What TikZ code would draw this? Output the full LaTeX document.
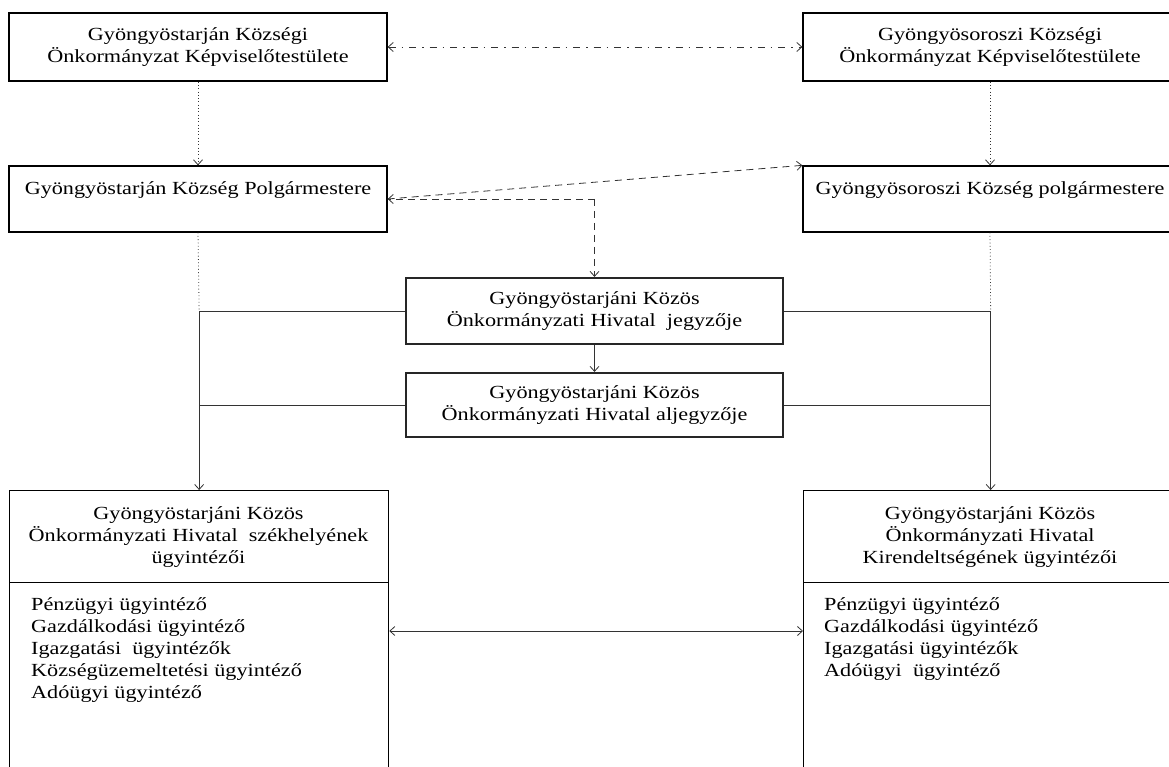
\documentclass[tikz,border=0pt]{standalone}
\usepackage{fontspec}
\setmainfont{Liberation Serif}[FakeStretch=1.2]
\usetikzlibrary{arrows.meta,calc}
\newcommand\diafont{\fontsize{18.5}{22}\selectfont}
\begin{document}
\begin{tikzpicture}[x=1pt,y=-1pt,
  box/.style={draw=black,line width=1.3pt,inner sep=0pt,align=center,font=\diafont},
  boldbox/.style={box,line width=2.2pt,draw=black!85},
  txt/.style={inner sep=0pt,font=\diafont},
  conn/.style={draw=black!80,line width=0.8pt},
  tip/.style={-{Straight Barb[length=5pt,width=9pt]}},
  bitip/.style={{Straight Barb[length=5pt,width=9pt]}-{Straight Barb[length=5pt,width=9pt]}},
  dashdotline/.style={dash pattern=on 7pt off 6pt on 1.5pt off 6pt},
  dashline/.style={dash pattern=on 7pt off 5pt},
  dotline/.style={dash pattern=on 0.8pt off 2.5pt}
]
\useasboundingbox (0,0) rectangle (1169,767);
\fill[white] (0,0) rectangle (1169,767);
\clip (0,0) rectangle (1169,767);

% top boxes
\node[box,minimum width=378pt,minimum height=68pt] (tl) at (198,47) {Gyöngyöstarján Községi\\Önkormányzat Képviselőtestülete};
\node[box,minimum width=374pt,minimum height=68pt] (tr) at (990,47) {Gyöngyösoroszi Községi\\Önkormányzat Képviselőtestülete};

% mayors
\node[box,minimum width=378pt,minimum height=66pt] (pl) at (198,199) {Gyöngyöstarján Község Polgármestere\\\mbox{}};
\node[box,minimum width=374pt,minimum height=66pt] (pr) at (990,199) {Gyöngyösoroszi Község polgármestere\\\mbox{}};

% notary boxes
\node[boldbox,minimum width=377pt,minimum height=66pt] (j) at (594.5,311) {Gyöngyöstarjáni Közös\\Önkormányzati Hivatal\ \ jegyzője};
\node[boldbox,minimum width=377pt,minimum height=64pt] (a) at (594.5,405) {Gyöngyöstarjáni Közös\\Önkormányzati Hivatal aljegyzője};

% bottom boxes
\node[box,minimum width=379pt,minimum height=320pt,anchor=north west] (bl) at (9,490) {};
\node[box,minimum width=374pt,minimum height=320pt,anchor=north west] (br) at (803,490) {};
\node[txt,align=center] (blt) at (198.5,537) {Gyöngyöstarjáni Közös\\Önkormányzati Hivatal\ \ székhelyének\\ügyintézői};
\node[txt,align=center] (brt) at (990,537) {Gyöngyöstarjáni Közös\\Önkormányzati Hivatal\\Kirendeltségének ügyintézői};
\coordinate (sepy) at (0,582);
\draw[line width=1pt] (bl.west |- sepy) -- (bl.east |- sepy);
\draw[line width=1pt] (br.west |- sepy) -- (br.east |- sepy);
\node[txt,align=left,anchor=north west] (bll) at (31,597) {Pénzügyi ügyintéző\\Gazdálkodási ügyintéző\\Igazgatási\ \ ügyintézők\\Községüzemeltetési ügyintéző\\Adóügyi ügyintéző};
\node[txt,align=left,anchor=north west] (brl) at (824,597) {Pénzügyi ügyintéző\\Gazdálkodási ügyintéző\\Igazgatási ügyintézők\\Adóügyi\ \ ügyintéző};

% connectors
\draw[conn,dashdotline,bitip] (tl) -- (tr);
\draw[conn,dotline,tip] (tl) -- (pl);
\draw[conn,dotline,tip] (tr) -- (pr);

\coordinate (jn) at (j.north |- pl.east);
\draw[conn,dashline,tip] (jn) -- (pl.east);
\draw[conn,dashline,tip] (jn) -- (j.north);
\draw[conn,dashline,tip] (pl.east) -- (pr.north west);

\draw[conn,tip] (j) -- (a);

\coordinate (lj) at (bl.north |- j.west);
\coordinate (la) at (bl.north |- a.west);
\coordinate (rj) at (br.north |- j.east);
\coordinate (ra) at (br.north |- a.east);
\draw[conn,dotline] (pl.south) -- (lj);
\draw[conn,dotline] (pr.south) -- (rj);
\draw[conn] (j.west) -- (lj);
\draw[conn] (a.west) -- (la);
\draw[conn] (j.east) -- (rj);
\draw[conn] (a.east) -- (ra);
\draw[conn,tip] (lj) -- (bl.north);
\draw[conn,tip] (rj) -- (br.north);

\coordinate (midy) at (0,631);
\draw[conn,bitip] (bl.east |- midy) -- (br.west |- midy);
\end{tikzpicture}
\end{document}
